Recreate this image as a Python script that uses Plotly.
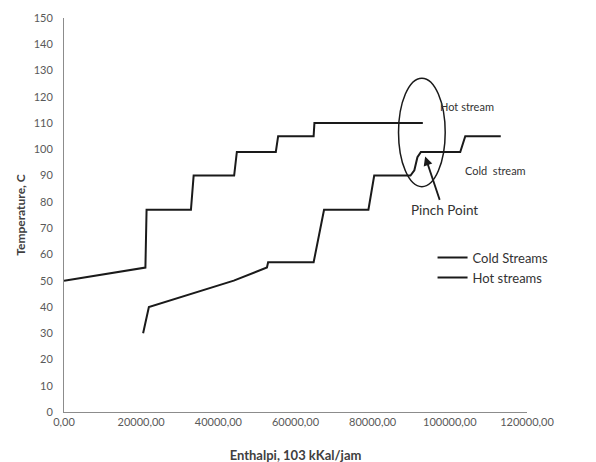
import plotly.graph_objects as go

# Data
cold_x = [20500, 22000, 44000, 52600, 52900, 64700, 67400, 78900, 80400, 89800, 90800, 91600, 92500, 102700, 104000, 113200]
cold_y = [30, 40, 50, 55, 57, 57, 77, 77, 90, 90, 92, 97, 99, 99, 105, 105]
hot_x = [0, 21100, 21400, 32900, 33600, 44100, 44800, 54900, 55500, 64700, 64900, 93000]
hot_y = [50, 55, 77, 77, 90, 90, 99, 99, 105, 105, 110, 110]

x_ticks = [0, 20000, 40000, 60000, 80000, 100000, 120000]
x_tick_labels = ["0,00", "20000,00", "40000,00", "60000,00", "80000,00", "100000,00", "120000,00"]
y_ticks = list(range(0, 151, 10))

FONT = "Lato, 'Open Sans', sans-serif"
GRAY = "#595959"

fig = go.Figure()
fig.add_trace(go.Scatter(x=cold_x, y=cold_y, mode="lines", name="Cold Streams",
                         line=dict(color="#1a1a1a", width=2)))
fig.add_trace(go.Scatter(x=hot_x, y=hot_y, mode="lines", name="Hot streams",
                         line=dict(color="#1a1a1a", width=2)))

# ellipse around pinch region
fig.add_shape(type="circle", xref="x", yref="y", x0=86700, x1=98800, y0=85.8, y1=127.1,
              line=dict(color="#1a1a1a", width=1.5))

fig.add_annotation(x=104500, y=116.3, text="Hot stream", showarrow=False,
                   font=dict(family=FONT, size=11, color="#333333"))
fig.add_annotation(x=111800, y=91.9, text="Cold&nbsp;&nbsp;stream", showarrow=False,
                   font=dict(family=FONT, size=11, color="#333333"))
fig.add_annotation(x=98600, y=76.8, text="Pinch Point", showarrow=False,
                   font=dict(family=FONT, size=13.5, color="#333333"))
fig.add_annotation(x=93600, y=97.3, ax=97500, ay=80.2, axref="x", ayref="y",
                   text="", showarrow=True, arrowhead=2, arrowsize=1, arrowwidth=1.8,
                   arrowcolor="#1a1a1a")

fig.update_layout(
    width=596, height=462,
    margin=dict(l=56, r=77, t=10, b=58, autoexpand=False),
    paper_bgcolor="white", plot_bgcolor="white",
    font=dict(family=FONT, size=11, color=GRAY),
    showlegend=True,
    legend=dict(x=0.796, y=0.43, xanchor="left", yanchor="top", bgcolor="rgba(0,0,0,0)",
                font=dict(family=FONT, size=13, color="#333333"), itemwidth=30,
                tracegroupgap=0),
)
fig.update_xaxes(range=[0, 120000], tickvals=x_ticks, ticktext=x_tick_labels,
                 showgrid=False, zeroline=False, showline=True, linecolor="#8c8c8c", linewidth=1,
                 ticks="", tickfont=dict(size=11, color=GRAY), ticklabelstandoff=0, automargin=False,
                 title=dict(text="<b>Enthalpi, 103 kKal/jam</b>", font=dict(size=13, color="#404040"), standoff=23))
fig.update_yaxes(range=[0, 150], tickvals=y_ticks,
                 showgrid=False, zeroline=False, showline=True, linecolor="#8c8c8c", linewidth=1,
                 ticks="", tickfont=dict(size=11, color=GRAY), ticklabelstandoff=8, automargin=False,
                 title=dict(text="<b>Temperature, C</b>", font=dict(size=12, color="#404040"), standoff=5))

fig.write_html("out.html")
